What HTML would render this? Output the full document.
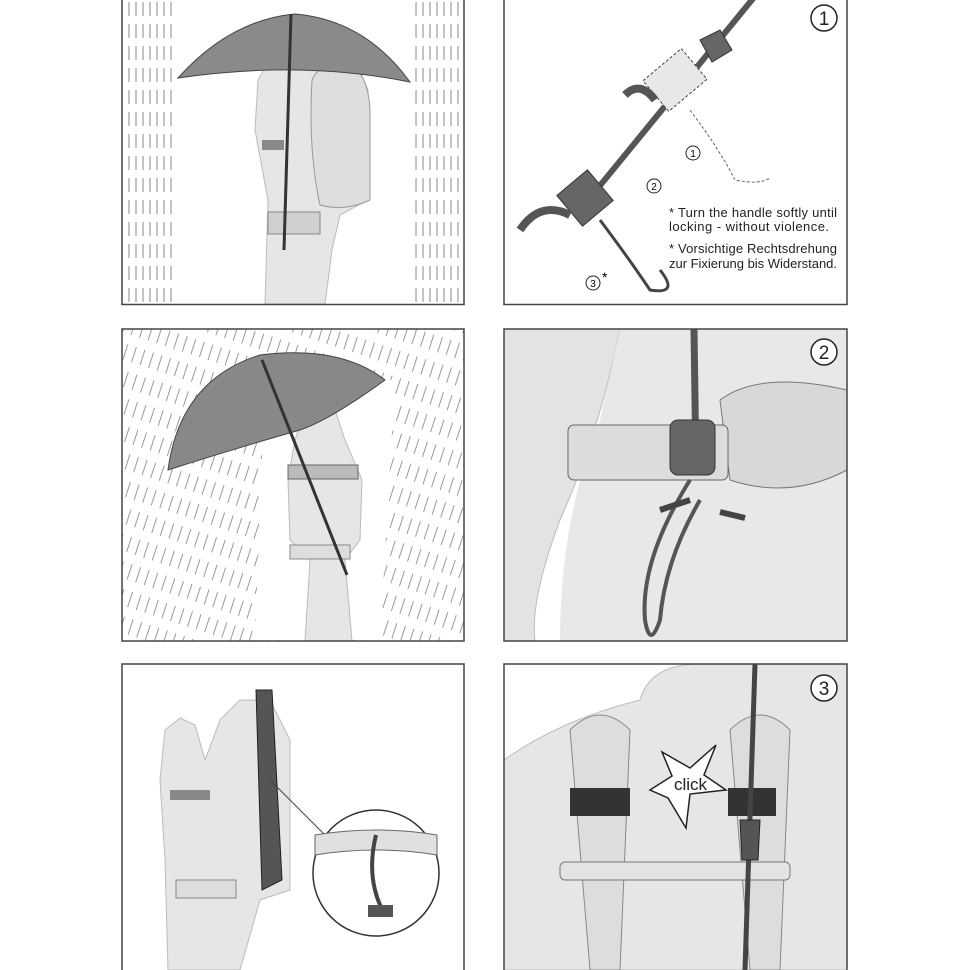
<!DOCTYPE html>
<html><head><meta charset="utf-8"><style>
html,body{margin:0;padding:0;background:#fff}
svg{display:block}
text{font-family:"Liberation Sans",sans-serif}
</style></head><body>
<svg width="970" height="970" viewBox="0 0 970 970" xmlns="http://www.w3.org/2000/svg">
<defs>
<pattern id="rv" width="7" height="22" patternUnits="userSpaceOnUse">
<line x1="3" y1="2" x2="3" y2="16" stroke="#888" stroke-width="1"/>
</pattern>
<pattern id="rs" width="9" height="26" patternUnits="userSpaceOnUse" patternTransform="rotate(18)">
<line x1="3" y1="2" x2="3" y2="18" stroke="#999" stroke-width="1"/>
</pattern>
<clipPath id="c1"><rect x="122" y="0" width="342" height="304"/></clipPath>
<clipPath id="c2"><rect x="504" y="0" width="343" height="304"/></clipPath>
<clipPath id="c3"><rect x="122" y="329" width="342" height="312"/></clipPath>
<clipPath id="c4"><rect x="504" y="329" width="343" height="312"/></clipPath>
<clipPath id="c5"><rect x="122" y="664" width="342" height="306"/></clipPath>
<clipPath id="c6"><rect x="504" y="664" width="343" height="306"/></clipPath>
</defs>

<!-- Panel 1 -->
<g clip-path="url(#c1)">
<rect x="124" y="0" width="50" height="304" fill="url(#rv)"/>
<rect x="412" y="0" width="50" height="304" fill="url(#rv)"/>
<path d="M265 304 L268 200 L255 130 L258 80 L270 60 L290 58 L320 70 L355 60 L368 90 L368 200 L340 215 L332 250 L325 304 Z" fill="#e6e6e6" stroke="#bbb"/>
<path d="M312 80 Q320 62 345 62 Q368 70 370 110 L370 200 Q345 212 320 205 Q308 150 312 80Z" fill="#dedede" stroke="#999"/>
<rect x="262" y="140" width="22" height="10" fill="#888"/>
<rect x="268" y="212" width="52" height="22" fill="#d0d0d0" stroke="#888"/>
<path d="M178 78 Q230 20 295 14 Q365 20 410 82 Q300 60 178 78Z" fill="#8a8a8a" stroke="#444"/>
<line x1="291" y1="14" x2="284" y2="250" stroke="#333" stroke-width="3"/>
</g>
<rect x="122" y="-2" width="342" height="306.5" fill="none" stroke="#444" stroke-width="1.5"/>

<!-- Panel 2 -->
<g clip-path="url(#c2)">
<line x1="760" y1="-10" x2="580" y2="210" stroke="#555" stroke-width="6"/>
<path d="M700 40 L720 30 L732 50 L712 62Z" fill="#666" stroke="#333"/>
<rect x="650" y="60" width="50" height="40" fill="#e8e8e8" stroke="#444" stroke-dasharray="3,2" transform="rotate(-40 675 80)"/>
<path d="M690 110 Q720 150 735 180 Q760 185 770 178" fill="none" stroke="#666" stroke-width="1" stroke-dasharray="3,2"/>
<rect x="565" y="178" width="40" height="40" fill="#666" stroke="#333" transform="rotate(-40 585 198)"/>
<path d="M600 220 Q630 260 650 290 Q680 295 660 270" fill="none" stroke="#444" stroke-width="3"/>
<path d="M520 230 Q540 200 570 215" fill="none" stroke="#555" stroke-width="8"/>
<path d="M625 95 Q640 80 655 100" fill="none" stroke="#555" stroke-width="8"/>
</g>
<rect x="504" y="-2" width="343" height="306.5" fill="none" stroke="#444" stroke-width="1.5"/>
<circle cx="824" cy="18" r="13" fill="#fff" stroke="#222" stroke-width="1.5"/>
<text x="824" y="25" font-size="19" text-anchor="middle" fill="#222">1</text>
<text x="669" y="217" font-size="13" fill="#222" textLength="168">* Turn the handle softly until</text>
<text x="669" y="231" font-size="13" fill="#222" textLength="160">locking - without violence.</text>
<text x="669" y="253" font-size="13" fill="#222" textLength="168">* Vorsichtige Rechtsdrehung</text>
<text x="669" y="268" font-size="13" fill="#222" textLength="168">zur Fixierung bis Widerstand.</text>
<circle cx="693" cy="153" r="7" fill="#fff" stroke="#222"/><text x="693" y="157" font-size="10" text-anchor="middle">1</text>
<circle cx="654" cy="186" r="7" fill="#fff" stroke="#222"/><text x="654" y="190" font-size="10" text-anchor="middle">2</text>
<circle cx="593" cy="283" r="7" fill="#fff" stroke="#222"/><text x="593" y="287" font-size="10" text-anchor="middle">3</text>
<text x="602" y="282" font-size="14">*</text>

<!-- Panel 3 -->
<g clip-path="url(#c3)">
<rect x="120" y="329" width="346" height="312" fill="url(#rs)"/>
<path d="M265 380 L395 380 L380 640 L255 640 Z" fill="#fff"/>
<path d="M305 641 L310 560 L290 540 L288 480 L295 440 L305 410 L320 402 L335 410 L345 440 L362 480 L360 540 L345 560 L352 641 Z" fill="#e6e6e6" stroke="#bbb"/>
<rect x="288" y="465" width="70" height="14" fill="#bbb" stroke="#666"/>
<rect x="290" y="545" width="60" height="14" fill="#ddd" stroke="#888"/>
<path d="M168 470 Q180 380 260 355 Q340 345 385 380 Q330 420 300 430 Q230 450 168 470Z" fill="#888" stroke="#444"/>
<line x1="262" y1="360" x2="347" y2="575" stroke="#333" stroke-width="3"/>
</g>
<rect x="122" y="329" width="342" height="312" fill="none" stroke="#444" stroke-width="1.5"/>

<!-- Panel 4 -->
<g clip-path="url(#c4)">
<path d="M504 329 L620 329 Q600 430 560 520 Q530 600 535 641 L504 641Z" fill="#e3e3e3" stroke="#bbb"/>
<path d="M620 329 L847 329 L847 641 L560 641 Q560 520 600 420Z" fill="#e8e8e8"/>
<path d="M720 400 Q760 370 847 390 L847 470 Q790 500 730 480Z" fill="#d8d8d8" stroke="#777"/>
<rect x="568" y="425" width="160" height="55" rx="6" fill="#dcdcdc" stroke="#666"/>
<line x1="694" y1="329" x2="696" y2="470" stroke="#555" stroke-width="7"/>
<rect x="670" y="420" width="45" height="55" rx="8" fill="#666" stroke="#333"/>
<path d="M690 480 Q640 560 645 620 Q650 650 660 620 Q665 560 700 500" fill="none" stroke="#555" stroke-width="4"/>
<path d="M660 510 L690 500" stroke="#444" stroke-width="6"/>
<path d="M720 512 L745 518" stroke="#444" stroke-width="6"/>
</g>
<rect x="504" y="329" width="343" height="312" fill="none" stroke="#444" stroke-width="1.5"/>
<circle cx="824" cy="352" r="13" fill="#fff" stroke="#222" stroke-width="1.5"/>
<text x="824" y="359" font-size="19" text-anchor="middle" fill="#222">2</text>

<!-- Panel 5 -->
<g clip-path="url(#c5)">
<path d="M168 970 L165 860 L160 780 L165 730 L180 718 L195 725 L205 760 L220 720 L240 700 L270 700 L290 740 L290 890 L260 900 L240 970Z" fill="#e6e6e6" stroke="#bbb"/>
<rect x="170" y="790" width="40" height="10" fill="#888"/>
<rect x="176" y="880" width="60" height="18" fill="#ddd" stroke="#888"/>
<path d="M256 690 L272 690 L282 880 L262 890Z" fill="#555" stroke="#222"/>
<line x1="270" y1="780" x2="330" y2="840" stroke="#444"/>
<circle cx="376" cy="873" r="63" fill="#fff" stroke="#333" stroke-width="1.5"/>
<path d="M315 835 Q376 825 437 835 L437 855 Q376 845 315 855Z" fill="#e0e0e0" stroke="#666"/>
<path d="M376 835 Q365 880 385 915" fill="none" stroke="#444" stroke-width="4"/>
<rect x="368" y="905" width="25" height="12" fill="#555"/>
</g>
<rect x="122" y="664" width="342" height="320" fill="none" stroke="#444" stroke-width="1.5"/>

<!-- Panel 6 -->
<g clip-path="url(#c6)">
<path d="M504 970 L504 760 Q560 720 640 700 Q650 664 700 664 L847 664 L847 970Z" fill="#e6e6e6" stroke="#bbb"/>
<path d="M570 730 Q600 700 630 730 L620 970 L590 970 Q580 850 570 730Z" fill="#ddd" stroke="#888"/>
<path d="M730 730 Q760 700 790 730 L780 970 L750 970 Q740 850 730 730Z" fill="#ddd" stroke="#888"/>
<rect x="570" y="788" width="60" height="28" fill="#333"/>
<rect x="728" y="788" width="48" height="28" fill="#333"/>
<rect x="560" y="862" width="230" height="18" rx="5" fill="#e3e3e3" stroke="#777"/>
<line x1="755" y1="664" x2="745" y2="970" stroke="#444" stroke-width="5"/>
<path d="M740 820 L760 820 L758 860 L742 860Z" fill="#555" stroke="#222"/>
<polygon points="716,745 704,775 726,790 690,794 686,828 668,798 650,790 672,776 662,752 690,768" fill="#fff" stroke="#222" stroke-width="1.5"/>
<text x="674" y="790" font-size="17" fill="#222">click</text>
</g>
<rect x="504" y="664" width="343" height="320" fill="none" stroke="#444" stroke-width="1.5"/>
<circle cx="824" cy="688" r="13" fill="#fff" stroke="#222" stroke-width="1.5"/>
<text x="824" y="695" font-size="19" text-anchor="middle" fill="#222">3</text>
</svg>
</body></html>
